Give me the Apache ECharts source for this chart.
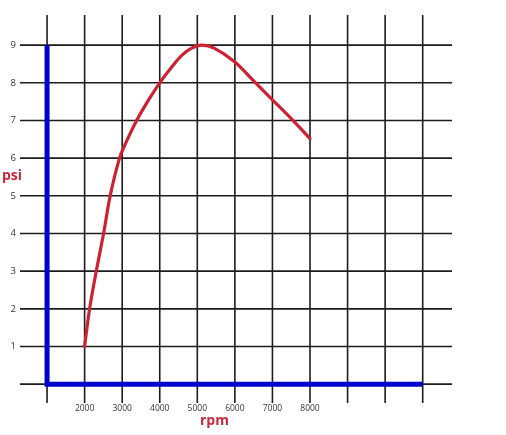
<!DOCTYPE html>
<html>
<head>
<meta charset="utf-8">
<script src="https://cdn.jsdelivr.net/npm/echarts@6/dist/echarts.min.js"></script>
<style>html,body{margin:0;padding:0;background:#fff;}#c{width:506px;height:435px;}</style>
</head>
<body>
<div id="c"></div>
<script>
// Data
var rpm = [2000, 2133, 2310, 2505, 2680, 2930, 3090, 3385, 3700, 4000, 4320, 4585, 4850, 5120, 5450, 6000, 6500, 7000, 7500, 8000];
var psi = [1.0, 2.0, 3.0, 4.0, 5.0, 6.0, 6.39, 7.0, 7.54, 8.0, 8.42, 8.73, 8.92, 9.0, 8.92, 8.55, 8.05, 7.55, 7.05, 6.52];
var xGridVals = [1000, 2000, 3000, 4000, 5000, 6000, 7000, 8000, 9000, 10000, 11000];
var yGridVals = [0, 1, 2, 3, 4, 5, 6, 7, 8, 9];
var xTickLabels = [2000, 3000, 4000, 5000, 6000, 7000, 8000];
var yTickLabels = [1, 2, 3, 4, 5, 6, 7, 8, 9];
var axisCorner = [[1000, 9], [1000, 0], [11000, 0]];

var X_MIN = 280, X_MAX = 11780, Y_MIN = -0.5, Y_MAX = 9.8;

var series = [];
xGridVals.forEach(function (v) {
  series.push({type: 'line', data: [[v, Y_MIN], [v, Y_MAX]], symbol: 'none', silent: true,
    lineStyle: {color: '#1c1c1c', width: 1.6}, z: 1});
});
yGridVals.forEach(function (v) {
  series.push({type: 'line', data: [[X_MIN, v], [X_MAX, v]], symbol: 'none', silent: true,
    lineStyle: {color: '#1c1c1c', width: 1.6}, z: 1});
});
series.push({type: 'line', data: axisCorner, symbol: 'none', silent: true,
  lineStyle: {color: '#0000cd', width: 5, join: 'miter', cap: 'butt'}, z: 3});
series.push({type: 'line', data: rpm.map(function (r, i) { return [r, psi[i]]; }),
  symbol: 'none', smooth: 0.3, lineStyle: {color: '#cc2233', width: 3.2, cap: 'round'}, z: 5});

var chart = echarts.init(document.getElementById('c'), null, {renderer: 'canvas'});
chart.setOption({
  animation: false,
  backgroundColor: '#ffffff',
  grid: {left: 20, right: 54, top: 15, bottom: 32, containLabel: false},
  xAxis: {
    type: 'value', min: X_MIN, max: X_MAX,
    axisLine: {show: false}, axisTick: {show: false}, splitLine: {show: false},
    axisLabel: {customValues: xTickLabels, margin: 1, fontSize: 8.5, color: '#333',
      fontFamily: 'Open Sans', formatter: function (v) { return String(v); }}
  },
  yAxis: {
    type: 'value', min: Y_MIN, max: Y_MAX,
    axisLine: {show: false}, axisTick: {show: false}, splitLine: {show: false},
    axisLabel: {customValues: yTickLabels, margin: 4, fontSize: 9.5, color: '#333',
      fontFamily: 'Open Sans', formatter: function (v) { return String(v); }}
  },
  graphic: [
    {type: 'text', left: 2, top: 169, style: {text: 'psi', fill: '#c8283a', font: 'bold 14px "Open Sans"'}},
    {type: 'text', left: 200, top: 414, style: {text: 'rpm', fill: '#c8283a', font: 'bold 14px "Open Sans"'}}
  ],
  series: series
});
</script>
</body>
</html>
